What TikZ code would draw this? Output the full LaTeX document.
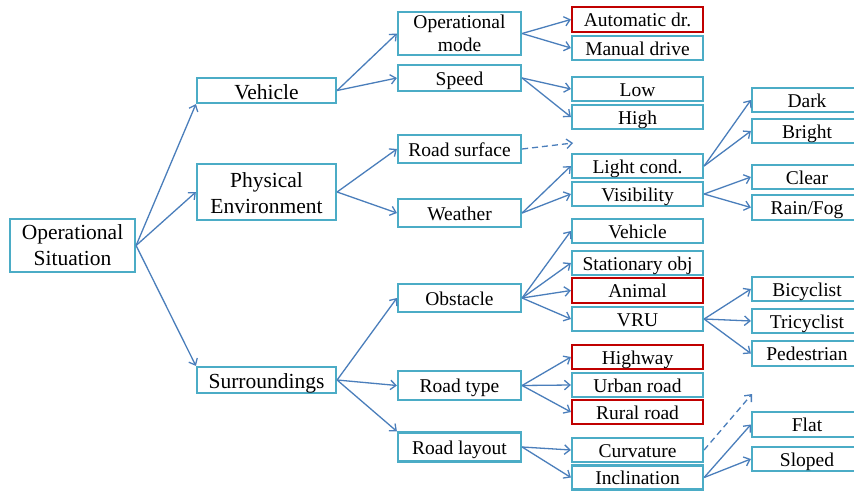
\documentclass[tikz,border=0pt]{standalone}
\usepackage{fontspec}
\setmainfont{Liberation Serif}
\usetikzlibrary{arrows.meta}
\definecolor{boxc}{HTML}{4BACC6}
\definecolor{redc}{HTML}{C00000}
\definecolor{arrc}{HTML}{4A7EBB}
\begin{document}
\begin{tikzpicture}[x=1pt,y=-1pt,
  bx/.style={draw=boxc, line width=2.2pt, fill=white, inner sep=0pt, align=center},
  rbx/.style={bx, draw=redc},
  lvA/.style={font=\fontsize{21.5}{26}\selectfont, minimum width=139pt},
  slA/.style={text height=18pt, text depth=1pt},
  lvB/.style={font=\fontsize{19.5}{23}\selectfont, minimum width=123pt},
  sl/.style={text height=16pt, text depth=1.5pt},
  lvC/.style={font=\fontsize{19.5}{23}\selectfont, minimum width=131pt, minimum height=24pt, sl},
  lvD/.style={font=\fontsize{19.5}{23}\selectfont, minimum width=110pt, minimum height=24pt, sl},
  conn/.style={draw=arrc, line width=1.3pt, -{Straight Barb[length=5.5pt,width=9.5pt]}},
  dconn/.style={conn, dashed, dash pattern=on 6pt off 4pt}]
\useasboundingbox (0,0) rectangle (854,490);
\clip (0,0) rectangle (854,490);
\fill[white] (0,0) rectangle (854,490);
% level 0
\node[bx, font=\fontsize{21.5}{26}\selectfont, minimum width=125pt, minimum height=53pt] (os) at (72.5,245.5) {Operational\\Situation};
% level 1
\node[bx, lvA, slA, minimum height=25pt] (veh) at (266.5,90.5) {Vehicle};
\node[bx, lvA, minimum height=56pt] (phys) at (266.5,192) {\rule{0pt}{17.5pt}Physical\\Environment};
\node[bx, lvA, slA, minimum height=26pt] (sur) at (266.5,380) {Surroundings};
% level 2
\node[bx, lvB, minimum height=43pt] (opm) at (459.5,33.5) {Operational\\mode};
\node[bx, lvB, sl, minimum height=26pt] (spd) at (459.5,78) {Speed};
\node[bx, lvB, sl, minimum height=28pt] (rsf) at (459.5,149) {Road surface};
\node[bx, lvB, sl, minimum height=28pt] (wth) at (459.5,213) {Weather};
\node[bx, lvB, sl, minimum height=28pt] (obs) at (459.5,298) {Obstacle};
\node[bx, lvB, sl, minimum height=29pt] (rty) at (459.5,385.5) {Road type};
\node[bx, lvB, sl, minimum height=29pt] (rly) at (459.5,447) {Road layout};
% level 3
\node[rbx, lvC, minimum height=25pt] (aut) at (637.5,19.5) {Automatic dr.};
\node[bx, lvC] (man) at (637.5,48) {Manual drive};
\node[bx, lvC] (low) at (637.5,89) {Low};
\node[bx, lvC] (hig) at (637.5,117) {High};
\node[bx, lvC] (lgt) at (637.5,166) {Light cond.};
\node[bx, lvC] (vis) at (637.5,194) {Visibility};
\node[bx, lvC] (vh3) at (637.5,231) {Vehicle};
\node[bx, lvC] (sta) at (637.5,263) {Stationary obj};
\node[rbx, lvC, minimum height=25pt] (ani) at (637.5,290.5) {Animal};
\node[bx, lvC] (vru) at (637.5,319) {VRU};
\node[rbx, lvC] (hwy) at (637.5,357) {Highway};
\node[bx, lvC] (urb) at (637.5,385) {Urban road};
\node[rbx, lvC] (rur) at (637.5,412) {Rural road};
\node[bx, lvC] (cur) at (637.5,450) {Curvature};
\node[bx, lvC] (inc) at (637.5,477.5) {Inclination};
% level 4
\node[bx, lvD] (drk) at (807,100) {Dark};
\node[bx, lvD] (brt) at (807,131) {Bright};
\node[bx, lvD] (clr) at (807,177) {Clear};
\node[bx, lvD, minimum height=25pt] (rfg) at (807,207.5) {Rain/Fog};
\node[bx, lvD] (bic) at (807,289) {Bicyclist};
\node[bx, lvD] (tri) at (807,321) {Tricyclist};
\node[bx, lvD, minimum height=25pt] (ped) at (807,353.5) {Pedestrian};
\node[bx, lvD, minimum height=25pt] (flt) at (807,424.5) {Flat};
\node[bx, lvD] (slp) at (807,459) {Sloped};
% free ends of dashed connectors
\coordinate (rsfend) at (573,143);
\coordinate (curend) at (752,394);
% connectors
\draw[conn] (os.east) -- (veh.south west);
\draw[conn] (os.east) -- (phys.west);
\draw[conn] (os.east) -- (sur.north west);
\draw[conn] (veh.east) -- (opm.west);
\draw[conn] (veh.east) -- (spd.west);
\draw[conn] (phys.east) -- (rsf.west);
\draw[conn] (phys.east) -- (wth.west);
\draw[conn] (sur.east) -- (obs.west);
\draw[conn] (sur.east) -- (rty.west);
\draw[conn] (sur.east) -- (rly.north west);
\draw[conn] (opm.east) -- (aut.west);
\draw[conn] (opm.east) -- (man.west);
\draw[conn] (spd.east) -- (low.west);
\draw[conn] (spd.east) -- (hig.west);
\draw[dconn] (rsf.east) -- (rsfend);
\draw[conn] (wth.east) -- (lgt.west);
\draw[conn] (wth.east) -- (vis.west);
\draw[conn] (obs.east) -- (vh3.west);
\draw[conn] (obs.east) -- (sta.west);
\draw[conn] (obs.east) -- (ani.west);
\draw[conn] (obs.east) -- (vru.west);
\draw[conn] (rty.east) -- (hwy.west);
\draw[conn] (rty.east) -- (urb.west);
\draw[conn] (rty.east) -- (rur.west);
\draw[conn] (rly.east) -- (cur.west);
\draw[conn] (rly.east) -- (inc.west);
\draw[conn] (lgt.east) -- (drk.west);
\draw[conn] (lgt.east) -- (brt.west);
\draw[conn] (vis.east) -- (clr.west);
\draw[conn] (vis.east) -- (rfg.west);
\draw[conn] (vru.east) -- (bic.west);
\draw[conn] (vru.east) -- (tri.west);
\draw[conn] (vru.east) -- (ped.west);
\draw[dconn] (cur.east) -- (curend);
\draw[conn] (inc.east) -- (flt.west);
\draw[conn] (inc.east) -- (slp.west);
\end{tikzpicture}
\end{document}
